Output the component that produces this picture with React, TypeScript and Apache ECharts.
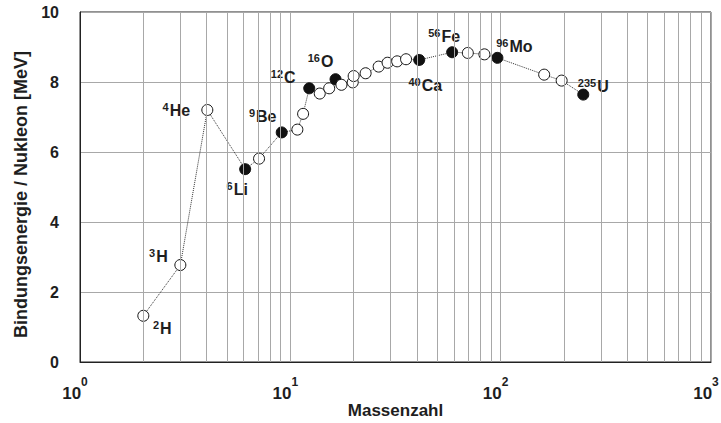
import React, { useEffect, useRef } from 'react';
import * as echarts from 'echarts';

// Mass number A (log axis) and binding energy per nucleon [MeV]
const massNumbers = [2.0, 3.0, 4.03, 6.1, 7.1, 9.1, 10.8, 11.5, 12.3, 13.8, 15.3, 16.4, 17.5, 19.8, 20.0, 22.8, 26.3, 29.0, 32.2, 35.5, 41, 58.8, 69.8, 83.7, 96.5, 161, 195, 247];
const bindingEnergies = [1.32, 2.77, 7.2, 5.51, 5.81, 6.56, 6.64, 7.09, 7.82, 7.67, 7.82, 8.08, 7.92, 7.99, 8.17, 8.25, 8.44, 8.55, 8.59, 8.65, 8.63, 8.85, 8.83, 8.79, 8.69, 8.21, 8.04, 7.64];
const filledPoint = [false, false, false, true, false, true, false, false, true, false, false, true, false, false, false, false, false, false, false, false, true, true, false, false, true, false, false, true];
const nuclideMass = ['2', '3', '4', '6', '', '9', '', '', '12', '', '', '16', '', '', '', '', '', '', '', '', '40', '56', '', '', '96', '', '', '235'];
const nuclideSymbol = ['H', 'H', 'He', 'Li', '', 'Be', '', '', 'C', '', '', 'O', '', '', '', '', '', '', '', '', 'Ca', 'Fe', '', '', 'Mo', '', '', 'U'];

// label placement (pixel offsets of label centre from the point)
const labelOffsets: ([number, number] | null)[] = [
  [19, 12], [-22, -9], [-31, 0], [-8, 20], null, [-19, -16], null, null, [-26, -11], null, null, [-15, -18],
  null, null, null, null, null, null, null, null, [6, 25], [-8, -16], null, null, [17, -12], null, null, [10, -9],
];

const yTicks = { min: 0, max: 10, interval: 2 };
const xRange = { min: 1, max: 1000 };
const minorGridValues = [2, 3, 4, 5, 6, 7, 8, 9, 20, 30, 40, 50, 60, 70, 80, 90, 200, 300, 400, 500, 600, 700, 800, 900];

const FONT = '"Liberation Sans", Arial, Helvetica, sans-serif';
const TEXT = '#1e1e1e';
const GRID = '#a8a8a8';

export default function App() {
  const ref = useRef<HTMLDivElement>(null);

  useEffect(() => {
    if (!ref.current) return;
    const chart = echarts.init(ref.current, undefined, { renderer: 'svg' });

    const data = massNumbers.map((a, i) => {
      const item: any = {
        value: [a, bindingEnergies[i]],
        itemStyle: filledPoint[i]
          ? { color: '#111', borderColor: '#111', borderWidth: 1 }
          : { color: '#fff', borderColor: '#111', borderWidth: 1 },
      };
      const off = labelOffsets[i];
      if (nuclideSymbol[i] && off) {
        item.label = {
          show: true,
          position: 'inside',
          offset: off,
          align: 'center',
          verticalAlign: 'middle',
          formatter: `{s|${nuclideMass[i]}}{m|${nuclideSymbol[i]}}`,
          rich: {
            s: { fontSize: 11, fontWeight: 'bold', fontFamily: FONT, color: TEXT, lineHeight: 11, verticalAlign: 'top' },
            m: { fontSize: 16, fontWeight: 'bold', fontFamily: FONT, color: TEXT, lineHeight: 17, verticalAlign: 'bottom', padding: [0, 0, 0, 1] },
          },
        };
      }
      return item;
    });

    chart.setOption({
      animation: false,
      backgroundColor: '#fff',
      grid: {
        left: 80, right: 10, top: 12, bottom: 61,
        outerBoundsMode: 'none',
        containLabel: false,
        show: true, borderColor: '#222', borderWidth: 1, backgroundColor: 'transparent',
      },
      xAxis: {
        type: 'log',
        logBase: 10,
        min: xRange.min,
        max: xRange.max,
        name: 'Massenzahl',
        nameLocation: 'middle',
        nameGap: 48,
        nameMoveOverlap: false,
        nameTextStyle: { fontSize: 17, fontWeight: 'bold', fontFamily: FONT, color: TEXT, verticalAlign: 'middle', lineHeight: 17 },
        axisLine: { show: true, lineStyle: { color: '#222', width: 1 } },
        axisTick: { show: false },
        splitLine: { show: true, lineStyle: { color: GRID, width: 1 } },
        axisLabel: {
          margin: 14,
          padding: [0, 10, 0, 0],
          formatter: (v: number) => `{b|10}{s|${Math.round(Math.log10(v))}}`,
          rich: {
            b: { fontSize: 17, fontWeight: 'bold', fontFamily: FONT, color: TEXT, lineHeight: 26, verticalAlign: 'bottom' },
            s: { fontSize: 12, fontWeight: 'bold', fontFamily: FONT, color: TEXT, lineHeight: 12, verticalAlign: 'top' },
          },
        },
      },
      yAxis: {
        type: 'value',
        min: yTicks.min,
        max: yTicks.max,
        interval: yTicks.interval,
        name: 'Bindungsenergie / Nukleon [MeV]',
        nameLocation: 'middle',
        nameGap: 50,
        nameMoveOverlap: false,
        nameTextStyle: { fontSize: 18, fontWeight: 'bold', fontFamily: FONT, color: TEXT, padding: [0, 15, 0, 0] },
        axisLine: { show: true, lineStyle: { color: '#222', width: 1 } },
        axisTick: { show: false },
        splitLine: { show: true, lineStyle: { color: GRID, width: 1 } },
        axisLabel: { margin: 21, fontSize: 16, fontWeight: 'bold', fontFamily: FONT, color: TEXT },
      },
      series: [
        {
          type: 'line',
          data: [],
          z: 1,
          silent: true,
          markLine: {
            silent: true,
            symbol: ['none', 'none'],
            label: { show: false },
            lineStyle: { color: GRID, type: 'solid', width: 1 },
            emphasis: { disabled: true },
            data: minorGridValues.map((v) => ({ xAxis: v })),
          },
        },
        {
          type: 'line',
          z: 3,
          data,
          symbol: 'circle',
          symbolSize: 11,
          lineStyle: { type: 'dotted', width: 1, color: '#333' },
          emphasis: { disabled: true },
        },
      ],
    });

    return () => chart.dispose();
  }, []);

  return <div ref={ref} style={{ width: 721, height: 423, position: 'absolute', left: 0, top: 0 }} />;
}
